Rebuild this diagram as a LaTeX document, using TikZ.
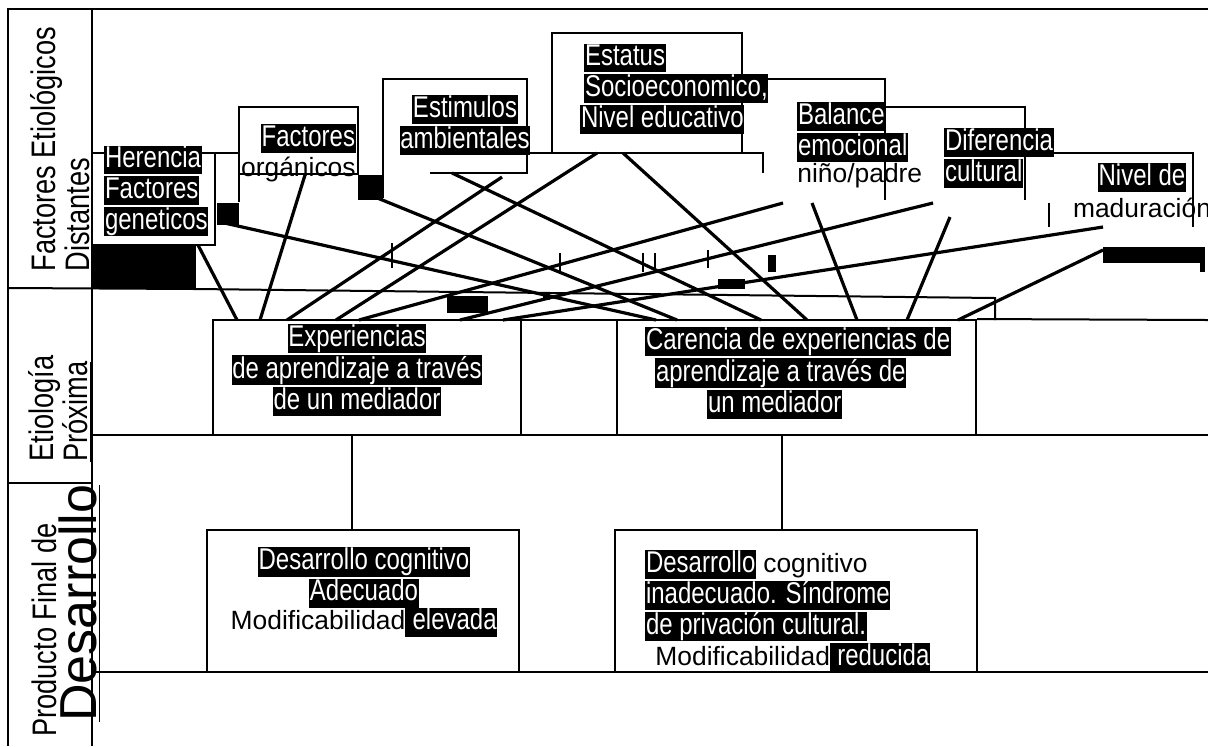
\documentclass[tikz,border=0pt]{standalone}
\usepackage{fontspec}
\setmainfont{Liberation Sans}[FakeStretch=0.8]
\newfontfamily\plainfont{Liberation Sans}
\newcommand{\hl}[1]{{\setlength{\fboxsep}{0.3pt}\colorbox{black}{\textcolor{white}{\vrule height 0.72em depth 0.2em width 0pt\relax #1}}}}
\newcommand{\pl}[1]{{\plainfont\fontsize{13.2}{14}\selectfont #1}}
\tikzset{
  frame/.style={line width=1pt},
  fan/.style={line width=1.6pt},
  box/.style={draw, line width=1pt, inner sep=0pt},
  lbl/.style={inner sep=0pt, font=\fontsize{15}{#1}\selectfont},
  lbl/.default=14,
  side/.style={rotate=90, inner sep=0pt, anchor=west, align=left, font=\fontsize{17}{15}\selectfont},
  blot/.style={fill=black}
}

\begin{document}
\begin{tikzpicture}[x=0.5pt, y=-0.5pt]
  \useasboundingbox (0,0) rectangle (1208,746);

  % outer frame and rows
  \draw[frame] (8,746) -- (8,9) -- (1208,9);
  \draw[frame] (92,9) -- (92,746);
  \draw[frame] (8,288) -- (196,289) -- (995,298) -- (995,320);
  \draw[frame] (8,483) -- (92,483);
  \draw[frame] (92,435) -- (1208,435);
  \draw[frame] (92,672) -- (1208,672);

  % middle and bottom boxes
  \node[box, minimum width=154pt, minimum height=57.5pt] (exp) at (367,377.5) {};
  \node[box, minimum width=48pt, minimum height=57.5pt] (gap) at (569,377.5) {};
  \node[box, minimum width=179.5pt, minimum height=57.5pt] (car) at (796.5,377.5) {};
  \draw[frame] (car.north east) -- (1208,320);
  \node[box, minimum width=156pt, minimum height=71pt] (des1) at (363,601) {};
  \node[box, minimum width=181pt, minimum height=71pt] (des2) at (796,601) {};
  \draw[frame] ([xshift=-7.5pt]exp.south) -- ([xshift=-7.5pt]exp.south |- des1.north);
  \draw[frame] ([xshift=-7.25pt]car.south) -- ([xshift=-7.25pt]car.south |- des2.north);

  % top factor outlines
  \draw[frame] (92,153) -- (239,153);
  \draw[frame] (215,153) -- (215,245) -- (92,245);
  \draw[frame] (239,202) -- (239,107) -- (358,107) -- (358,174) -- (239,174);
  \draw[frame] (383,198) -- (383,79) -- (527,79) -- (527,173) -- (430,173);
  \draw[frame] (552,153) -- (552,33) -- (742,33) -- (742,153);
  \draw[frame] (527,153) -- (763,153) -- (763,173);
  \draw[frame] (742,79) -- (885,79) -- (885,200);
  \draw[frame] (885,107) -- (1025,107) -- (1025,200);
  \draw[frame] (1025,153) -- (1193,153) -- (1193,227);
  \draw[frame] (1049,203) -- (1049,227);

  % ends of the links
  \coordinate (h1) at (198,245);  \coordinate (h2) at (220,222);
  \coordinate (o1) at (305,175);  \coordinate (o2) at (370,195);
  \coordinate (a1) at (502,177);  \coordinate (a2) at (452,173);
  \coordinate (s1) at (597,153);  \coordinate (s2) at (623,153);
  \coordinate (b1) at (783,203);  \coordinate (b2) at (812,203);
  \coordinate (d1) at (933,203);  \coordinate (d2) at (950,217);
  \coordinate (n1) at (1103,227); \coordinate (n2) at (1103,250);
  \foreach \i/\x in {1/237,2/260,3/287,4/336,5/359,6/460,7/503}
    \coordinate (e\i) at (\x,320);
  \foreach \i/\x in {1/656,2/677,3/761,4/807,5/857,6/907,7/958}
    \coordinate (c\i) at (\x,320);

  \foreach \s/\t in {h1/e1,h2/c1,o1/e2,o2/c2,a1/e3,a2/c3,s1/e4,s2/c4,
                     b1/e5,b2/c5,d1/e6,d2/c6,n1/e7,n2/c7}
    \draw[fan] (\s) -- (\t);

  % stray marks
  \foreach \x/\a/\b in {392/243/268,560/253/272,643/253/272,655/253/272,708/250/268}
    \draw[frame] (\x,\a) -- (\x,\b);
  \fill[blot] (92,245) rectangle (196,288);
  \fill[blot] (358,175) rectangle (383,200);
  \fill[blot] (217,203) rectangle (239,225);
  \fill[blot] (447,296) rectangle (488,313);
  \fill[blot] (543,293) rectangle (550,300);
  \fill[blot] (718,279) rectangle (745,289);
  \fill[blot] (768,255) rectangle (776,272);
  \fill[blot] (1103,247) rectangle (1205,263);
  \fill[blot] (1200,263) rectangle (1205,272);

  % side titles
  \node[side] (fed) at (60,272) {Factores Etiológicos\\Distantes};
  \node[side] (etp) at (60,462) {Etiología\\\underline{Próxima}};
  \node[side] (pfd) at (44,737) {Producto Final de};
  \node[side, font=\plainfont\fontsize{26}{26}\selectfont] (dsr) at (80,722) {\underline{Desarrollo}};

  % factor labels
  \node[lbl=13.75, align=left, anchor=west] (her) at (104,191) {\hl{Herencia}\\\hl{Factores}\\\hl{geneticos}};
  \node[lbl=15, align=right, anchor=east] (org) at (356,153) {\hl{Factores}\\\pl{orgánicos}};
  \node[lbl=13, align=center] (est) at (465,125) {\hl{Estimulos}\\\hl{ambientales}};
  \node[lbl=13.5, align=left, anchor=west] (ses) at (580,89) {\hspace{2pt}\hl{Estatus}\\\hspace{2pt}\hl{Socioeconomico,}\\\hl{Nivel educativo}};
  \node[lbl=13.75, align=left, anchor=west] (bal) at (797,145) {\hl{Balance}\\\hl{emocional}\\\pl{niño/padre}};
  \node[lbl=13.5, align=left, anchor=west] (dif) at (944,158) {\hl{Diferencia}\\\hl{cultural}};
  \node[lbl=16, align=center] (niv) at (1142,190) {\hl{Nivel de}\\\pl{maduración}};

  % box labels
  \node[lbl=14.5, align=center] (exp-txt) at (357,370) {\hl{Experiencias}\\\hl{de aprendizaje a través}\\\hl{de un mediador}};
  \node[lbl=14, align=left, anchor=west] (car-txt) at (645,373) {\hl{Carencia de experiencias de}\\\hspace{5pt}\hl{aprendizaje a través de}\\\hspace{31pt}\hl{un mediador}};
  \node[lbl=14.5, align=center] (des1-txt) at (364,592) {\hl{Desarrollo cognitivo}\\\hl{Adecuado}\\\pl{Modificabilidad}\hl{\ elevada}};
  \node[lbl=15.5, align=left, anchor=west] (des2-txt) at (645,611) {\hl{Desarrollo}\pl{ cognitivo}\\\hl{inadecuado. Síndrome}\\\hl{de privación cultural.}\\\hspace{5pt}\pl{Modificabilidad}\hl{\ reducida}};
\end{tikzpicture}
\end{document}
